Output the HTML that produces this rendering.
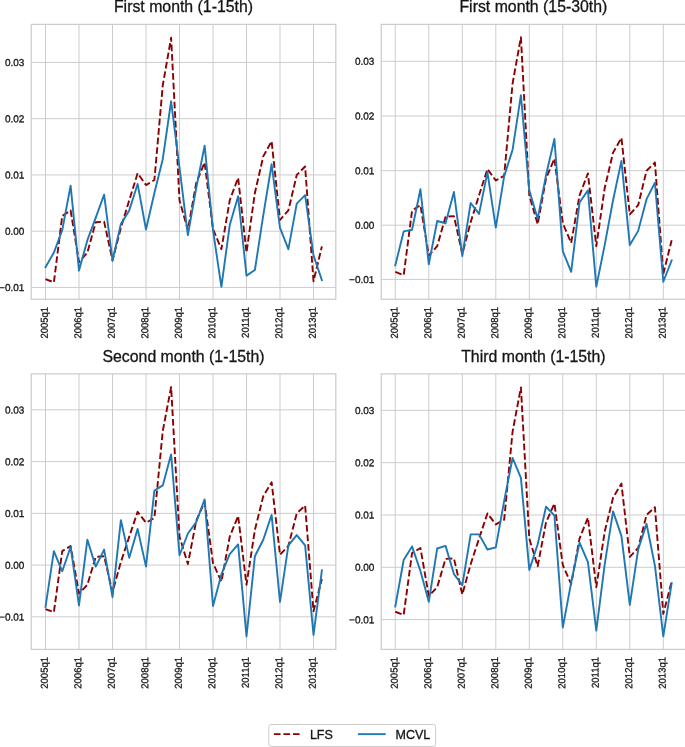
<!DOCTYPE html>
<html><head><meta charset="utf-8"><title>LFS vs MCVL</title>
<style>
html,body{margin:0;padding:0;background:#fff;}
svg{display:block;}
text{font-family:"Liberation Sans",Arial,Helvetica,sans-serif;fill:#151515;stroke:#151515;stroke-width:0.3px;}
.tick{font-size:10.0px;}
.title{font-size:15.85px;}
.leg{font-size:12.5px;}
.grid{stroke:#cccccc;stroke-width:1;fill:none;}
.spine{stroke:#cccccc;stroke-width:1.25;fill:none;}
.lfs{stroke:#8b0000;stroke-width:1.9;fill:none;stroke-dasharray:6.66 2.88;stroke-linejoin:round;}
.mcvl{stroke:#1f77b4;stroke-width:1.9;fill:none;stroke-linejoin:round;stroke-linecap:square;}
</style></head><body>
<svg width="685" height="747" viewBox="0 0 685 747">
<rect width="685" height="747" fill="#ffffff"/>
<g>
<text class="title" transform="translate(183.5,12.0) scale(1,1.0)" text-anchor="middle">First month (1-15th)</text>
<line class="grid" x1="45.50" x2="45.50" y1="24.4" y2="299.3"/>
<text class="tick" transform="translate(47.80,306.90) scale(1,0.95) rotate(-90.06)" text-anchor="end">2005q1</text>
<line class="grid" x1="79.00" x2="79.00" y1="24.4" y2="299.3"/>
<text class="tick" transform="translate(81.30,306.90) scale(1,0.95) rotate(-90.06)" text-anchor="end">2006q1</text>
<line class="grid" x1="112.50" x2="112.50" y1="24.4" y2="299.3"/>
<text class="tick" transform="translate(114.80,306.90) scale(1,0.95) rotate(-90.06)" text-anchor="end">2007q1</text>
<line class="grid" x1="146.00" x2="146.00" y1="24.4" y2="299.3"/>
<text class="tick" transform="translate(148.30,306.90) scale(1,0.95) rotate(-90.06)" text-anchor="end">2008q1</text>
<line class="grid" x1="179.50" x2="179.50" y1="24.4" y2="299.3"/>
<text class="tick" transform="translate(181.80,306.90) scale(1,0.95) rotate(-90.06)" text-anchor="end">2009q1</text>
<line class="grid" x1="213.00" x2="213.00" y1="24.4" y2="299.3"/>
<text class="tick" transform="translate(215.30,306.90) scale(1,0.95) rotate(-90.06)" text-anchor="end">2010q1</text>
<line class="grid" x1="246.50" x2="246.50" y1="24.4" y2="299.3"/>
<text class="tick" transform="translate(248.80,306.90) scale(1,0.95) rotate(-90.06)" text-anchor="end">2011q1</text>
<line class="grid" x1="280.00" x2="280.00" y1="24.4" y2="299.3"/>
<text class="tick" transform="translate(282.30,306.90) scale(1,0.95) rotate(-90.06)" text-anchor="end">2012q1</text>
<line class="grid" x1="313.50" x2="313.50" y1="24.4" y2="299.3"/>
<text class="tick" transform="translate(315.80,306.90) scale(1,0.95) rotate(-90.06)" text-anchor="end">2013q1</text>
<line class="grid" x1="31.2" x2="335.8" y1="287.45" y2="287.45"/>
<text class="tick" transform="translate(24.40,291.00) rotate(0.05) scale(1,1.0)" text-anchor="end">−0.01</text>
<line class="grid" x1="31.2" x2="335.8" y1="231.20" y2="231.20"/>
<text class="tick" transform="translate(24.40,234.75) rotate(0.05) scale(1,1.0)" text-anchor="end">0.00</text>
<line class="grid" x1="31.2" x2="335.8" y1="174.95" y2="174.95"/>
<text class="tick" transform="translate(24.40,178.50) rotate(0.05) scale(1,1.0)" text-anchor="end">0.01</text>
<line class="grid" x1="31.2" x2="335.8" y1="118.70" y2="118.70"/>
<text class="tick" transform="translate(24.40,122.25) rotate(0.05) scale(1,1.0)" text-anchor="end">0.02</text>
<line class="grid" x1="31.2" x2="335.8" y1="62.45" y2="62.45"/>
<text class="tick" transform="translate(24.40,66.00) rotate(0.05) scale(1,1.0)" text-anchor="end">0.03</text>
<polyline class="lfs" points="45.50,279.01 53.88,282.39 62.25,216.01 70.62,210.39 79.00,262.14 87.38,252.57 95.75,222.20 104.12,221.64 112.50,260.45 120.88,227.82 129.25,200.26 137.62,173.26 146.00,185.07 154.38,180.01 162.75,85.51 171.12,37.70 179.50,200.26 187.88,230.07 196.25,182.82 204.62,162.57 213.00,228.95 221.38,249.20 229.75,200.26 238.12,177.76 246.50,252.57 254.88,192.95 263.25,156.39 271.62,141.20 280.00,219.95 288.38,210.39 296.75,174.95 305.12,166.51 313.50,281.26 321.88,246.39"/>
<polyline class="mcvl" points="45.50,267.20 53.88,252.57 62.25,230.07 70.62,185.64 79.00,270.57 87.38,240.20 95.75,217.70 104.12,194.64 112.50,260.45 120.88,223.89 129.25,210.39 137.62,183.95 146.00,229.51 154.38,192.95 162.75,159.20 171.12,101.26 179.50,167.64 187.88,235.14 196.25,187.89 204.62,145.70 213.00,230.07 221.38,286.89 229.75,225.01 238.12,196.32 246.50,275.64 254.88,270.01 263.25,215.45 271.62,164.26 280.00,227.82 288.38,249.20 296.75,203.64 305.12,195.20 313.50,255.39 321.88,280.14"/>
<rect class="spine" x="31.2" y="24.4" width="304.60" height="274.90"/>
</g>
<g>
<text class="title" transform="translate(533.4,12.0) scale(1,1.0)" text-anchor="middle">First month (15-30th)</text>
<line class="grid" x1="395.30" x2="395.30" y1="24.4" y2="299.3"/>
<text class="tick" transform="translate(397.60,306.90) scale(1,0.95) rotate(-90.06)" text-anchor="end">2005q1</text>
<line class="grid" x1="428.80" x2="428.80" y1="24.4" y2="299.3"/>
<text class="tick" transform="translate(431.10,306.90) scale(1,0.95) rotate(-90.06)" text-anchor="end">2006q1</text>
<line class="grid" x1="462.30" x2="462.30" y1="24.4" y2="299.3"/>
<text class="tick" transform="translate(464.60,306.90) scale(1,0.95) rotate(-90.06)" text-anchor="end">2007q1</text>
<line class="grid" x1="495.80" x2="495.80" y1="24.4" y2="299.3"/>
<text class="tick" transform="translate(498.10,306.90) scale(1,0.95) rotate(-90.06)" text-anchor="end">2008q1</text>
<line class="grid" x1="529.30" x2="529.30" y1="24.4" y2="299.3"/>
<text class="tick" transform="translate(531.60,306.90) scale(1,0.95) rotate(-90.06)" text-anchor="end">2009q1</text>
<line class="grid" x1="562.80" x2="562.80" y1="24.4" y2="299.3"/>
<text class="tick" transform="translate(565.10,306.90) scale(1,0.95) rotate(-90.06)" text-anchor="end">2010q1</text>
<line class="grid" x1="596.30" x2="596.30" y1="24.4" y2="299.3"/>
<text class="tick" transform="translate(598.60,306.90) scale(1,0.95) rotate(-90.06)" text-anchor="end">2011q1</text>
<line class="grid" x1="629.80" x2="629.80" y1="24.4" y2="299.3"/>
<text class="tick" transform="translate(632.10,306.90) scale(1,0.95) rotate(-90.06)" text-anchor="end">2012q1</text>
<line class="grid" x1="663.30" x2="663.30" y1="24.4" y2="299.3"/>
<text class="tick" transform="translate(665.60,306.90) scale(1,0.95) rotate(-90.06)" text-anchor="end">2013q1</text>
<line class="grid" x1="381.2" x2="685.6" y1="279.40" y2="279.40"/>
<text class="tick" transform="translate(374.40,282.95) rotate(0.05) scale(1,1.0)" text-anchor="end">−0.01</text>
<line class="grid" x1="381.2" x2="685.6" y1="225.20" y2="225.20"/>
<text class="tick" transform="translate(374.40,228.75) rotate(0.05) scale(1,1.0)" text-anchor="end">0.00</text>
<line class="grid" x1="381.2" x2="685.6" y1="170.70" y2="170.70"/>
<text class="tick" transform="translate(374.40,174.25) rotate(0.05) scale(1,1.0)" text-anchor="end">0.01</text>
<line class="grid" x1="381.2" x2="685.6" y1="116.00" y2="116.00"/>
<text class="tick" transform="translate(374.40,119.55) rotate(0.05) scale(1,1.0)" text-anchor="end">0.02</text>
<line class="grid" x1="381.2" x2="685.6" y1="61.30" y2="61.30"/>
<text class="tick" transform="translate(374.40,64.85) rotate(0.05) scale(1,1.0)" text-anchor="end">0.03</text>
<polyline class="lfs" points="395.30,271.89 403.68,275.18 412.05,210.63 420.43,205.16 428.80,255.49 437.18,246.19 445.55,216.65 453.93,216.10 462.30,253.84 470.68,222.12 479.05,195.31 487.43,169.06 495.80,180.55 504.18,175.62 512.55,83.73 520.92,37.23 529.30,195.31 537.67,224.31 546.05,178.36 554.42,158.67 562.80,223.21 571.17,242.90 579.55,195.31 587.92,173.44 596.30,246.19 604.67,188.20 613.05,152.65 621.42,137.88 629.80,214.46 638.17,205.16 646.55,170.70 654.92,162.50 663.30,274.08 671.67,240.17"/>
<polyline class="mcvl" points="395.30,265.33 403.68,231.42 412.05,229.78 420.43,189.30 428.80,264.24 437.18,221.02 445.55,223.21 453.93,192.03 462.30,256.03 470.68,202.97 479.05,213.91 487.43,172.34 495.80,227.59 504.18,176.17 512.55,149.91 520.92,95.21 529.30,190.39 537.67,218.84 546.05,175.08 554.42,138.97 562.80,251.11 571.17,271.89 579.55,202.43 587.92,190.39 596.30,286.66 604.67,245.09 613.05,200.24 621.42,160.85 629.80,245.09 638.17,230.87 646.55,199.14 654.92,182.73 663.30,281.74 671.67,260.41"/>
<rect class="spine" x="381.2" y="24.4" width="304.40" height="274.90"/>
</g>
<g>
<text class="title" transform="translate(183.5,361.8) scale(1,1.0)" text-anchor="middle">Second month (1-15th)</text>
<line class="grid" x1="45.50" x2="45.50" y1="373.9" y2="649.4"/>
<text class="tick" transform="translate(47.80,657.00) scale(1,0.95) rotate(-90.06)" text-anchor="end">2005q1</text>
<line class="grid" x1="79.00" x2="79.00" y1="373.9" y2="649.4"/>
<text class="tick" transform="translate(81.30,657.00) scale(1,0.95) rotate(-90.06)" text-anchor="end">2006q1</text>
<line class="grid" x1="112.50" x2="112.50" y1="373.9" y2="649.4"/>
<text class="tick" transform="translate(114.80,657.00) scale(1,0.95) rotate(-90.06)" text-anchor="end">2007q1</text>
<line class="grid" x1="146.00" x2="146.00" y1="373.9" y2="649.4"/>
<text class="tick" transform="translate(148.30,657.00) scale(1,0.95) rotate(-90.06)" text-anchor="end">2008q1</text>
<line class="grid" x1="179.50" x2="179.50" y1="373.9" y2="649.4"/>
<text class="tick" transform="translate(181.80,657.00) scale(1,0.95) rotate(-90.06)" text-anchor="end">2009q1</text>
<line class="grid" x1="213.00" x2="213.00" y1="373.9" y2="649.4"/>
<text class="tick" transform="translate(215.30,657.00) scale(1,0.95) rotate(-90.06)" text-anchor="end">2010q1</text>
<line class="grid" x1="246.50" x2="246.50" y1="373.9" y2="649.4"/>
<text class="tick" transform="translate(248.80,657.00) scale(1,0.95) rotate(-90.06)" text-anchor="end">2011q1</text>
<line class="grid" x1="280.00" x2="280.00" y1="373.9" y2="649.4"/>
<text class="tick" transform="translate(282.30,657.00) scale(1,0.95) rotate(-90.06)" text-anchor="end">2012q1</text>
<line class="grid" x1="313.50" x2="313.50" y1="373.9" y2="649.4"/>
<text class="tick" transform="translate(315.80,657.00) scale(1,0.95) rotate(-90.06)" text-anchor="end">2013q1</text>
<line class="grid" x1="31.2" x2="335.8" y1="616.85" y2="616.85"/>
<text class="tick" transform="translate(24.40,620.40) rotate(0.05) scale(1,1.0)" text-anchor="end">−0.01</text>
<line class="grid" x1="31.2" x2="335.8" y1="565.10" y2="565.10"/>
<text class="tick" transform="translate(24.40,568.65) rotate(0.05) scale(1,1.0)" text-anchor="end">0.00</text>
<line class="grid" x1="31.2" x2="335.8" y1="513.35" y2="513.35"/>
<text class="tick" transform="translate(24.40,516.90) rotate(0.05) scale(1,1.0)" text-anchor="end">0.01</text>
<line class="grid" x1="31.2" x2="335.8" y1="461.60" y2="461.60"/>
<text class="tick" transform="translate(24.40,465.15) rotate(0.05) scale(1,1.0)" text-anchor="end">0.02</text>
<line class="grid" x1="31.2" x2="335.8" y1="409.85" y2="409.85"/>
<text class="tick" transform="translate(24.40,413.40) rotate(0.05) scale(1,1.0)" text-anchor="end">0.03</text>
<polyline class="lfs" points="45.50,609.09 53.88,612.19 62.25,551.13 70.62,545.95 79.00,593.56 87.38,584.76 95.75,556.82 104.12,556.30 112.50,592.01 120.88,562.00 129.25,536.64 137.62,511.80 146.00,522.66 154.38,518.01 162.75,431.07 171.12,387.08 179.50,536.64 187.88,564.07 196.25,520.60 204.62,501.97 213.00,563.03 221.38,581.66 229.75,536.64 238.12,515.94 246.50,584.76 254.88,529.91 263.25,496.27 271.62,482.30 280.00,554.75 288.38,545.95 296.75,513.35 305.12,505.59 313.50,611.16 321.88,579.07"/>
<polyline class="mcvl" points="45.50,607.02 53.88,551.13 62.25,571.31 70.62,546.99 79.00,605.47 87.38,539.74 95.75,566.65 104.12,549.58 112.50,597.19 120.88,520.08 129.25,557.86 137.62,528.88 146.00,566.65 154.38,490.58 162.75,485.41 171.12,454.36 179.50,555.27 187.88,533.53 196.25,522.15 204.62,499.38 213.00,605.98 221.38,574.42 229.75,554.23 238.12,544.40 246.50,636.51 254.88,556.30 263.25,539.74 271.62,514.90 280.00,601.84 288.38,545.44 296.75,535.09 305.12,545.44 313.50,634.96 321.88,570.27"/>
<rect class="spine" x="31.2" y="373.9" width="304.60" height="275.50"/>
</g>
<g>
<text class="title" transform="translate(533.4,361.8) scale(1,1.0)" text-anchor="middle">Third month (1-15th)</text>
<line class="grid" x1="395.30" x2="395.30" y1="373.9" y2="649.4"/>
<text class="tick" transform="translate(397.60,657.00) scale(1,0.95) rotate(-90.06)" text-anchor="end">2005q1</text>
<line class="grid" x1="428.80" x2="428.80" y1="373.9" y2="649.4"/>
<text class="tick" transform="translate(431.10,657.00) scale(1,0.95) rotate(-90.06)" text-anchor="end">2006q1</text>
<line class="grid" x1="462.30" x2="462.30" y1="373.9" y2="649.4"/>
<text class="tick" transform="translate(464.60,657.00) scale(1,0.95) rotate(-90.06)" text-anchor="end">2007q1</text>
<line class="grid" x1="495.80" x2="495.80" y1="373.9" y2="649.4"/>
<text class="tick" transform="translate(498.10,657.00) scale(1,0.95) rotate(-90.06)" text-anchor="end">2008q1</text>
<line class="grid" x1="529.30" x2="529.30" y1="373.9" y2="649.4"/>
<text class="tick" transform="translate(531.60,657.00) scale(1,0.95) rotate(-90.06)" text-anchor="end">2009q1</text>
<line class="grid" x1="562.80" x2="562.80" y1="373.9" y2="649.4"/>
<text class="tick" transform="translate(565.10,657.00) scale(1,0.95) rotate(-90.06)" text-anchor="end">2010q1</text>
<line class="grid" x1="596.30" x2="596.30" y1="373.9" y2="649.4"/>
<text class="tick" transform="translate(598.60,657.00) scale(1,0.95) rotate(-90.06)" text-anchor="end">2011q1</text>
<line class="grid" x1="629.80" x2="629.80" y1="373.9" y2="649.4"/>
<text class="tick" transform="translate(632.10,657.00) scale(1,0.95) rotate(-90.06)" text-anchor="end">2012q1</text>
<line class="grid" x1="663.30" x2="663.30" y1="373.9" y2="649.4"/>
<text class="tick" transform="translate(665.60,657.00) scale(1,0.95) rotate(-90.06)" text-anchor="end">2013q1</text>
<line class="grid" x1="381.2" x2="685.6" y1="619.60" y2="619.60"/>
<text class="tick" transform="translate(374.40,623.15) rotate(0.05) scale(1,1.0)" text-anchor="end">−0.01</text>
<line class="grid" x1="381.2" x2="685.6" y1="567.30" y2="567.30"/>
<text class="tick" transform="translate(374.40,570.85) rotate(0.05) scale(1,1.0)" text-anchor="end">0.00</text>
<line class="grid" x1="381.2" x2="685.6" y1="515.00" y2="515.00"/>
<text class="tick" transform="translate(374.40,518.55) rotate(0.05) scale(1,1.0)" text-anchor="end">0.01</text>
<line class="grid" x1="381.2" x2="685.6" y1="462.70" y2="462.70"/>
<text class="tick" transform="translate(374.40,466.25) rotate(0.05) scale(1,1.0)" text-anchor="end">0.02</text>
<line class="grid" x1="381.2" x2="685.6" y1="410.40" y2="410.40"/>
<text class="tick" transform="translate(374.40,413.95) rotate(0.05) scale(1,1.0)" text-anchor="end">0.03</text>
<polyline class="lfs" points="395.30,611.75 403.68,614.89 412.05,553.18 420.43,547.95 428.80,596.06 437.18,587.17 445.55,558.93 453.93,558.41 462.30,594.50 470.68,564.16 479.05,538.53 487.43,513.43 495.80,524.41 504.18,519.71 512.55,431.84 520.92,387.39 529.30,538.53 537.67,566.25 546.05,522.32 554.42,503.49 562.80,565.21 571.17,584.04 579.55,538.53 587.92,517.62 596.30,587.17 604.67,531.74 613.05,497.74 621.42,483.62 629.80,556.84 638.17,547.95 646.55,515.00 654.92,507.15 663.30,613.85 671.67,581.42"/>
<polyline class="mcvl" points="395.30,606.52 403.68,559.98 412.05,546.38 420.43,570.96 428.80,601.82 437.18,548.47 445.55,545.86 453.93,574.10 462.30,585.08 470.68,534.35 479.05,534.35 487.43,549.52 495.80,547.43 504.18,500.88 512.55,457.99 520.92,477.87 529.30,569.91 537.67,544.29 546.05,506.63 554.42,515.52 562.80,627.44 571.17,582.47 579.55,542.72 587.92,562.07 596.30,630.58 604.67,564.68 613.05,511.34 621.42,535.92 629.80,604.96 638.17,549.52 646.55,523.89 654.92,565.73 663.30,636.34 671.67,582.99"/>
<rect class="spine" x="381.2" y="373.9" width="304.40" height="275.50"/>
</g>
<rect x="268.8" y="724.5" width="166.8" height="21.9" rx="2.2" ry="2.2" fill="#fff" stroke="#cccccc" stroke-width="1"/>
<line x1="273.9" x2="299.6" y1="734.15" y2="734.15" stroke="#8b0000" stroke-width="1.9" stroke-dasharray="6.66 2.88"/>
<text class="leg" transform="translate(309.9,738.5) scale(1,1.0)">LFS</text>
<line x1="358" x2="385.7" y1="734.15" y2="734.15" stroke="#1f77b4" stroke-width="1.9"/>
<text class="leg" transform="translate(395.5,738.5) scale(1,1.0)">MCVL</text>
</svg></body></html>
